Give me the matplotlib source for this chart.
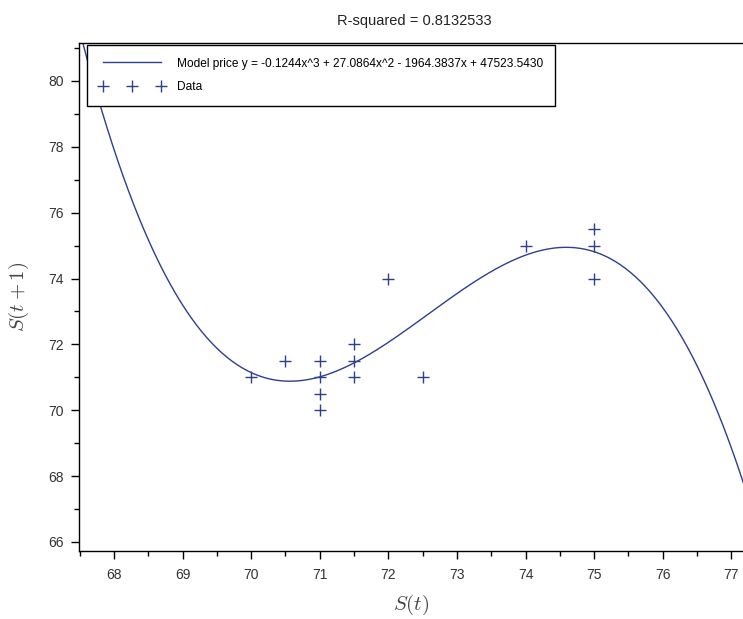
import numpy as np
import matplotlib
matplotlib.use('Agg')
import matplotlib.pyplot as plt
import matplotlib.ticker as mticker

# observed prices S(t) and next-step prices S(t+1)
s_t  = [70.0, 70.5, 71.0, 71.0, 71.0, 71.0, 71.5, 71.5, 71.5, 72.0, 72.5, 74.0, 75.0, 75.0, 75.0]
s_t1 = [71.0, 71.5, 71.5, 71.0, 70.5, 70.0, 72.0, 71.5, 71.0, 74.0, 71.0, 75.0, 75.5, 75.0, 74.0]

# model coefficients as printed in the legend (x^3, x^2, x, 1)
model_coef = [-0.1244, 27.0864, -1964.3837, 47523.5430]
# the printed coefficients are rounded; the drawn curve sits this much higher
model_offset = 0.3

title_txt = 'R-squared = 0.8132533'
model_lbl = 'Model price y = -0.1244x^3 + 27.0864x^2 - 1964.3837x + 47523.5430'

plt.rcParams['font.family'] = ['Liberation Sans', 'DejaVu Sans']
plt.rcParams['mathtext.fontset'] = 'cm'

col = '#2e3f8f'

fig = plt.figure(figsize=[7.43, 6.19], dpi=100)
ax = fig.add_axes([0.1063, 0.1099, 0.8937, 0.8207])

xs = np.linspace(67.3, 77.4, 400)
ax.plot(xs, np.polyval(model_coef, xs) + model_offset, color=col, lw=1.0, label=model_lbl)
ax.plot(s_t, s_t1, ls='none', marker='+', ms=8.5, mew=1.0, color=col, label='Data')

ax.set_xlim(67.49, 77.17)
ax.set_ylim(65.727, 81.154)

ax.xaxis.set_major_locator(mticker.MultipleLocator(1))
ax.xaxis.set_minor_locator(mticker.MultipleLocator(0.5))
ax.yaxis.set_major_locator(mticker.MultipleLocator(2))
ax.yaxis.set_minor_locator(mticker.MultipleLocator(1))
ax.tick_params(which='major', direction='out', length=6, width=1, labelsize=10, pad=6)
ax.tick_params(which='minor', direction='out', length=3.5, width=1)
ax.tick_params(axis='y', which='major', pad=5)
ax.tick_params(labelcolor='#333333')
ax.spines['right'].set_visible(False)
for s in ['left', 'bottom', 'top']:
    ax.spines[s].set_linewidth(1)

ax.set_xlabel('$S(t)$', fontsize=15, color='#444444', labelpad=8)
ax.set_ylabel('$S(t+1)$', fontsize=15, color='#444444', labelpad=12)
ax.set_title(title_txt, fontsize=10.5, color='#222222', pad=13, x=0.505)

leg = ax.legend(loc='upper left', bbox_to_anchor=(0.012, 0.996), borderaxespad=0,
                fancybox=False, edgecolor='black', framealpha=1, fontsize=8.6,
                numpoints=3, handlelength=5.45, handletextpad=1.0, labelspacing=0.98,
                borderpad=1.05)
leg.get_frame().set_linewidth(1)

fig.savefig('out.png', dpi=100)
